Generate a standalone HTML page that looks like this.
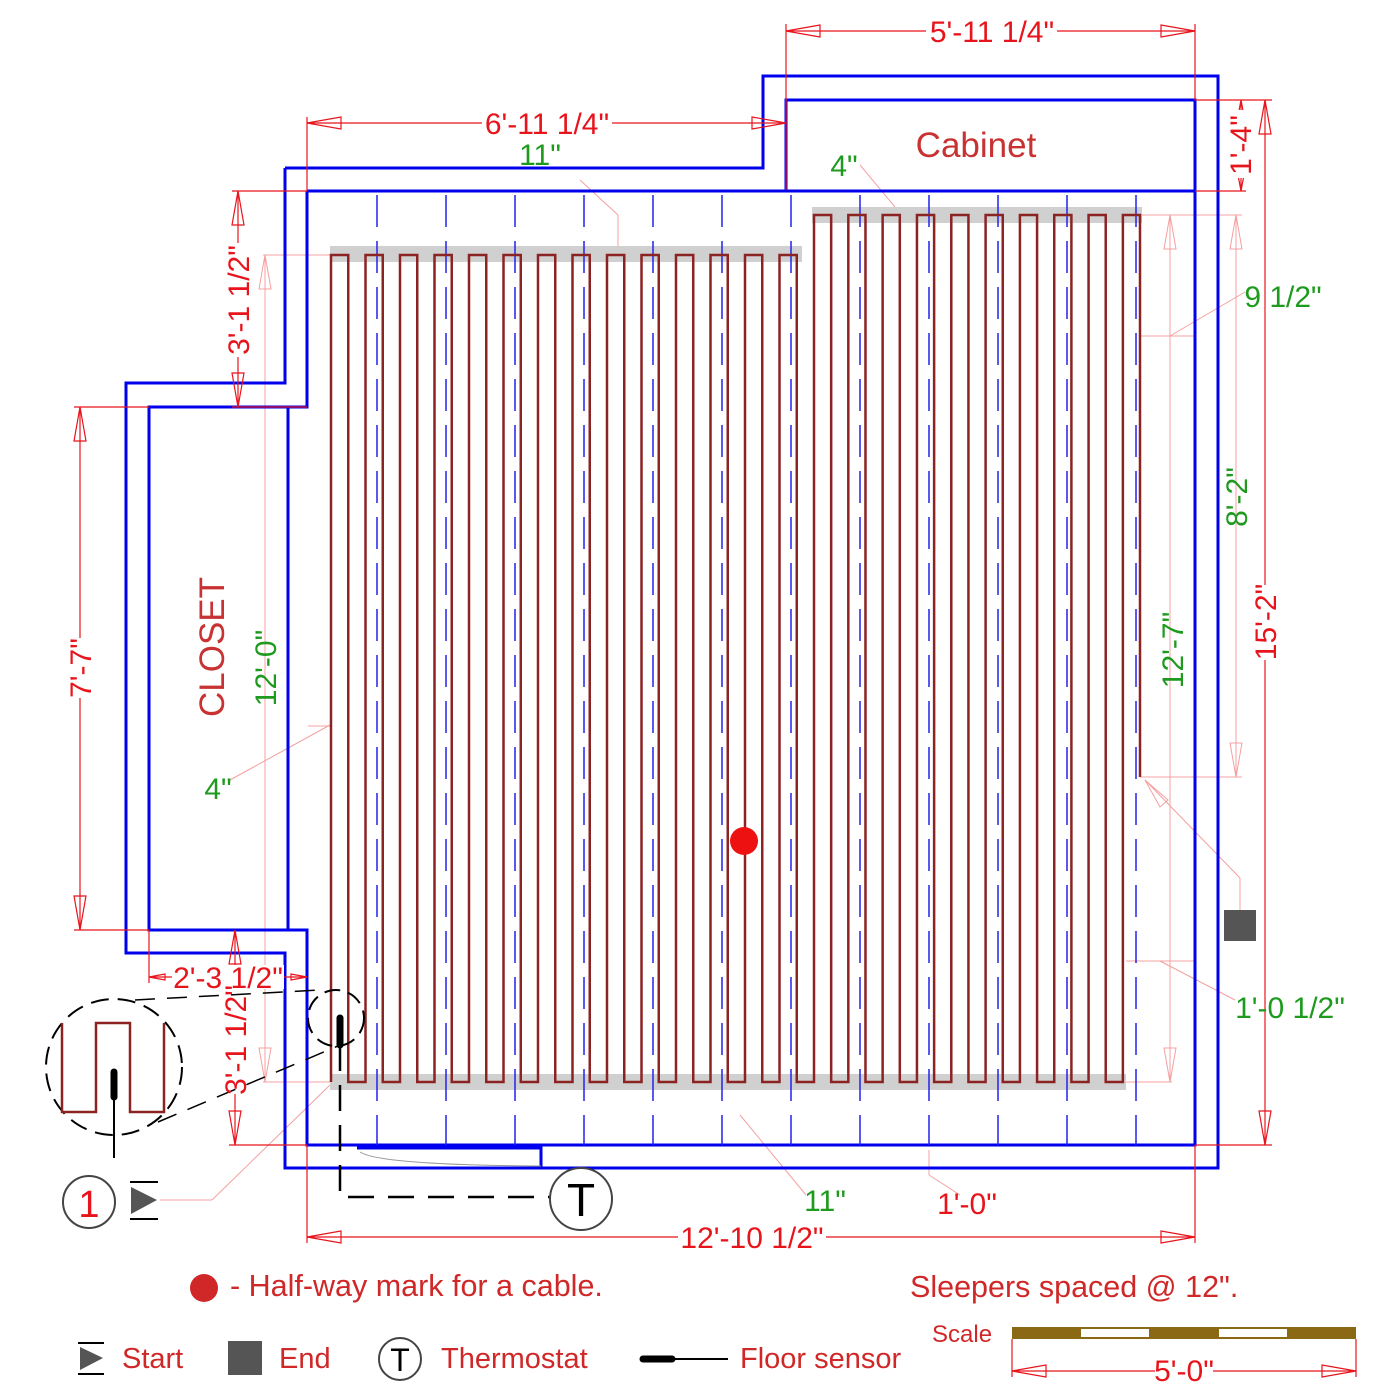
<!DOCTYPE html>
<html><head><meta charset="utf-8"><style>
html,body{margin:0;padding:0;background:#fff}
svg{display:block}
text{font-family:"Liberation Sans",Arial,sans-serif}
.r{fill:#e8141c;font-size:30px}
.g{fill:#1e9a1e;font-size:30px}
</style></head><body>
<svg width="1400" height="1400" viewBox="0 0 1400 1400" xmlns="http://www.w3.org/2000/svg">
<g stroke="#f4a0a0" stroke-width="1" fill="none">
<line x1="1140" y1="215" x2="1242" y2="215"/><line x1="1140" y1="777" x2="1242" y2="777"/>
<line x1="1140" y1="336" x2="1195" y2="336"/><line x1="1170" y1="336" x2="1245" y2="292"/>
<line x1="1126" y1="1082" x2="1172" y2="1082"/><line x1="1126" y1="961" x2="1195" y2="961"/><line x1="1160" y1="961" x2="1235" y2="1000"/>
<line x1="1170" y1="215" x2="1170" y2="1082"/><line x1="1236" y1="215" x2="1236" y2="777"/>
<line x1="1145" y1="780" x2="1240" y2="878"/><line x1="1240" y1="878" x2="1240" y2="910"/>
<line x1="263" y1="255" x2="330" y2="255"/><line x1="263" y1="1082" x2="330" y2="1082"/><line x1="265" y1="255" x2="265" y2="1082"/>
<line x1="230" y1="780" x2="330" y2="725"/><line x1="308" y1="726" x2="330" y2="726"/>
<line x1="580" y1="180" x2="618" y2="215"/><line x1="618" y1="215" x2="618" y2="246"/>
<line x1="860" y1="165" x2="895" y2="207"/>
<line x1="330" y1="1085" x2="212" y2="1200"/><line x1="212" y1="1200" x2="160" y2="1200"/>
<line x1="740" y1="1115" x2="806" y2="1195"/>
<line x1="929" y1="1150" x2="929" y2="1175"/><line x1="929" y1="1175" x2="960" y2="1195"/>
<polygon points="1236,215 1230,249 1242,249"/><polygon points="1236,777 1230,743 1242,743"/>
<polygon points="1170,215 1164,249 1176,249"/><polygon points="1170,1082 1164,1048 1176,1048"/>
<polygon points="265,255 259,289 271,289"/><polygon points="265,1082 259,1048 271,1048"/>
<polygon points="1145,780 1168,800 1160,807"/>
</g>
<g stroke="#0000ee" stroke-width="3" fill="none">
<polyline points="285,168 763,168 763,76 1218,76 1218,1168 285,1168 285,953 126,953 126,383 285,383 285,168"/>
<polyline points="307,191 786,191 786,100 1195,100 1195,1145 307,1145 307,930 149,930 149,407 307,407 307,191"/>
<line x1="786" y1="191" x2="1195" y2="191"/>
<line x1="288" y1="407" x2="288" y2="930"/>
<polyline points="357,1148 541,1148 541,1168"/>
</g>
<path d="M360,1152 Q380,1165 541,1166" stroke="#999" fill="none" stroke-width="1"/>
<rect x="330" y="246" width="472" height="16" fill="#d0d0d0"/>
<rect x="812" y="207" width="330" height="16" fill="#d0d0d0"/>
<rect x="330" y="1074" width="796" height="16" fill="#d0d0d0"/>
<g stroke="#2222ee" stroke-width="1.5" stroke-dasharray="32,14">
<line x1="377" y1="195" x2="377" y2="1145"/><line x1="446" y1="195" x2="446" y2="1145"/><line x1="515" y1="195" x2="515" y2="1145"/><line x1="584" y1="195" x2="584" y2="1145"/><line x1="653" y1="195" x2="653" y2="1145"/><line x1="722" y1="195" x2="722" y2="1145"/><line x1="791" y1="195" x2="791" y2="1145"/><line x1="860" y1="195" x2="860" y2="1145"/><line x1="929" y1="195" x2="929" y2="1145"/><line x1="998" y1="195" x2="998" y2="1145"/><line x1="1067" y1="195" x2="1067" y2="1145"/><line x1="1136" y1="195" x2="1136" y2="1145"/>
</g>
<path stroke="#8b2323" stroke-width="2.5" fill="none" d="M331 1082 V255 H348.25 V1082 H365.5 V255 H382.75 V1082 H400 V255 H417.25 V1082 H434.5 V255 H451.75 V1082 H469 V255 H486.25 V1082 H503.5 V255 H520.75 V1082 H538 V255 H555.25 V1082 H572.5 V255 H589.75 V1082 H607 V255 H624.25 V1082 H641.5 V255 H658.75 V1082 H676 V255 H693.25 V1082 H710.5 V255 H727.75 V1082 H745 V255 H762.25 V1082 H779.5 V255 H796.75 V1082 H814 V215 H831.16 V1082 H848.32 V215 H865.48 V1082 H882.64 V215 H899.8 V1082 H916.96 V215 H934.12 V1082 H951.28 V215 H968.44 V1082 H985.6 V215 H1002.76 V1082 H1019.92 V215 H1037.08 V1082 H1054.24 V215 H1071.4 V1082 H1088.56 V215 H1105.72 V1082 H1122.88 V215 H1140 V777"/>
<circle cx="744" cy="841" r="14" fill="#ee1111"/>
<rect x="1224" y="910" width="32" height="31" fill="#555"/>
<g stroke="#e8141c" stroke-width="1.2" fill="none">
<line x1="786" y1="31" x2="1195" y2="31"/><line x1="786" y1="24" x2="786" y2="190"/><line x1="1195" y1="24" x2="1195" y2="100"/>
<polygon points="786,31 820,25 820,37"/><polygon points="1195,31 1161,25 1161,37"/>
<line x1="307" y1="123" x2="786" y2="123"/><line x1="307" y1="117" x2="307" y2="191"/>
<polygon points="307,123 341,117 341,129"/><polygon points="786,123 752,117 752,129"/>
<line x1="1241" y1="100" x2="1241" y2="191"/><line x1="1195" y1="191" x2="1246" y2="191"/><line x1="1195" y1="100" x2="1272" y2="100"/><line x1="1195" y1="1145" x2="1272" y2="1145"/>
<polygon points="1241,100 1238,116 1244,116"/><polygon points="1241,191 1238,175 1244,175"/>
<line x1="1265" y1="100" x2="1265" y2="1145"/>
<polygon points="1265,100 1259,134 1271,134"/><polygon points="1265,1145 1259,1111 1271,1111"/>
<line x1="238" y1="191" x2="238" y2="407"/><line x1="232" y1="191" x2="307" y2="191"/><line x1="232" y1="407" x2="307" y2="407"/>
<polygon points="238,191 232,225 244,225"/><polygon points="238,407 232,373 244,373"/>
<line x1="80" y1="407" x2="80" y2="930"/><line x1="74" y1="407" x2="149" y2="407"/><line x1="74" y1="930" x2="149" y2="930"/>
<polygon points="80,407 74,441 86,441"/><polygon points="80,930 74,896 86,896"/>
<line x1="149" y1="977" x2="307" y2="977"/><line x1="149" y1="930" x2="149" y2="983"/>
<polygon points="149,977 165,974 165,980"/><polygon points="307,977 291,974 291,980"/>
<line x1="235" y1="930" x2="235" y2="1145"/><line x1="229" y1="1145" x2="307" y2="1145"/>
<polygon points="235,930 229,964 241,964"/><polygon points="235,1145 229,1111 241,1111"/>
<line x1="307" y1="1237" x2="1195" y2="1237"/><line x1="307" y1="1145" x2="307" y2="1243"/><line x1="1195" y1="1145" x2="1195" y2="1243"/>
<polygon points="307,1237 341,1231 341,1243"/><polygon points="1195,1237 1161,1231 1161,1243"/>
<line x1="1012" y1="1371" x2="1356" y2="1371"/><line x1="1012" y1="1339" x2="1012" y2="1377"/><line x1="1356" y1="1339" x2="1356" y2="1377"/>
<polygon points="1012,1371 1046,1365 1046,1377"/><polygon points="1356,1371 1322,1365 1322,1377"/>
</g>
<g fill="#fff">
<rect x="926" y="18" width="131" height="28"/>
<rect x="482" y="110" width="130" height="28"/>
<rect x="678" y="1223" width="148" height="28"/>
<rect x="1155" y="1358" width="58" height="27"/>
<rect x="1228" y="110" width="28" height="68"/>
<rect x="1252" y="585" width="28" height="75"/>
<rect x="225" y="243" width="27" height="114"/>
<rect x="67" y="638" width="27" height="60"/>
<rect x="222" y="984" width="26" height="110"/>
<rect x="172" y="965" width="112" height="24"/>
</g>
<g stroke="#000" fill="none">
<polyline points="340,1045 340,1197 550,1197" stroke-width="2.5" stroke-dasharray="26,14"/>
<line x1="340" y1="1018" x2="340" y2="1045" stroke-width="7" stroke-linecap="round"/>
<circle cx="336" cy="1018" r="28" stroke-width="2" stroke-dasharray="16,8"/>
<circle cx="114" cy="1067" r="68" stroke-width="2" stroke-dasharray="18,9"/>
<line x1="135" y1="1000" x2="320" y2="990" stroke-width="1.5" stroke-dasharray="20,12"/>
<line x1="158" y1="1122" x2="338" y2="1046" stroke-width="1.5" stroke-dasharray="20,12"/>
<line x1="114" y1="1072" x2="114" y2="1158" stroke-width="2"/>
<line x1="114" y1="1072" x2="114" y2="1097" stroke-width="7" stroke-linecap="round"/>
</g>
<polyline points="62,1023 62,1112 96,1112 96,1023 130,1023 130,1112 164,1112 164,1023" stroke="#8b2323" stroke-width="2.5" fill="none"/>
<circle cx="581" cy="1199" r="31" stroke="#444" stroke-width="2" fill="#fff"/>
<text x="581" y="1216" font-size="46" text-anchor="middle" fill="#000">T</text>
<circle cx="89" cy="1202" r="26" stroke="#444" stroke-width="2" fill="#fff"/>
<text x="89" y="1217" font-size="38" text-anchor="middle" fill="#e8141c">1</text>
<g stroke="#000" stroke-width="2"><line x1="130" y1="1182" x2="158" y2="1182"/><line x1="130" y1="1219" x2="158" y2="1219"/></g>
<polygon points="131,1187 157,1200 131,1214" fill="#555"/>
<text class="r" x="992" y="42" text-anchor="middle">5'-11 1/4"</text>
<text class="r" x="547" y="134" text-anchor="middle">6'-11 1/4"</text>
<text class="g" x="540" y="165" text-anchor="middle">11"</text>
<text class="g" x="844" y="176" text-anchor="middle">4"</text>
<text x="976" y="157" font-size="35" text-anchor="middle" fill="#c83232">Cabinet</text>
<text class="g" x="1283" y="307" text-anchor="middle">9 1/2"</text>
<text class="g" x="1290" y="1018" text-anchor="middle">1'-0 1/2"</text>
<text class="g" x="218" y="799" text-anchor="middle">4"</text>
<text class="r" x="228" y="988" text-anchor="middle">2'-3 1/2"</text>
<text class="r" x="752" y="1248" text-anchor="middle">12'-10 1/2"</text>
<text class="g" x="825" y="1211" text-anchor="middle">11"</text>
<text class="r" x="967" y="1214" text-anchor="middle">1'-0"</text>
<text class="r" transform="translate(1251,145) rotate(-90)" text-anchor="middle">1'-4"</text>
<text class="r" transform="translate(1276,622) rotate(-90)" text-anchor="middle">15'-2"</text>
<text class="g" transform="translate(1247,497) rotate(-90)" text-anchor="middle">8'-2"</text>
<text class="g" transform="translate(1183,650) rotate(-90)" text-anchor="middle">12'-7"</text>
<text class="r" transform="translate(249,300) rotate(-90)" text-anchor="middle">3'-1 1/2"</text>
<text class="r" transform="translate(91,668) rotate(-90)" text-anchor="middle">7'-7"</text>
<text class="r" transform="translate(246,1040) rotate(-90)" text-anchor="middle">3'-1 1/2"</text>
<text class="g" transform="translate(276,668) rotate(-90)" text-anchor="middle">12'-0"</text>
<text transform="translate(224,647) rotate(-90)" text-anchor="middle" font-size="35" fill="#c83232">CLOSET</text>
<circle cx="204" cy="1288" r="14" fill="#d02828"/>
<text x="230" y="1296" font-size="30.5" fill="#d02828">- Half-way mark for a cable.</text>
<text x="910" y="1297" font-size="30.5" fill="#d02828">Sleepers spaced @ 12".</text>
<text x="932" y="1342" font-size="24" fill="#d02828">Scale</text>
<rect x="1012" y="1327" width="344" height="12" fill="#8b6914"/>
<rect x="1081" y="1329" width="68" height="8" fill="#fff"/><rect x="1219" y="1329" width="68" height="8" fill="#fff"/>
<text class="r" x="1184" y="1381" text-anchor="middle" font-size="26">5'-0"</text>
<g stroke="#000" stroke-width="2"><line x1="78" y1="1343" x2="104" y2="1343"/><line x1="78" y1="1374" x2="104" y2="1374"/></g>
<polygon points="80,1347 103,1358 80,1370" fill="#555"/>
<text x="122" y="1368" font-size="29" fill="#d02828">Start</text>
<rect x="228" y="1341" width="34" height="34" fill="#555"/>
<text x="279" y="1368" font-size="29" fill="#d02828">End</text>
<circle cx="400" cy="1359" r="21" stroke="#444" stroke-width="2" fill="#fff"/>
<text x="400" y="1371" font-size="32" text-anchor="middle" fill="#000">T</text>
<text x="441" y="1368" font-size="29" fill="#d02828">Thermostat</text>
<line x1="640" y1="1359" x2="728" y2="1359" stroke="#000" stroke-width="2"/>
<line x1="643" y1="1359" x2="672" y2="1359" stroke="#000" stroke-width="7" stroke-linecap="round"/>
<text x="740" y="1368" font-size="29" fill="#d02828">Floor sensor</text>
</svg>
</body></html>
